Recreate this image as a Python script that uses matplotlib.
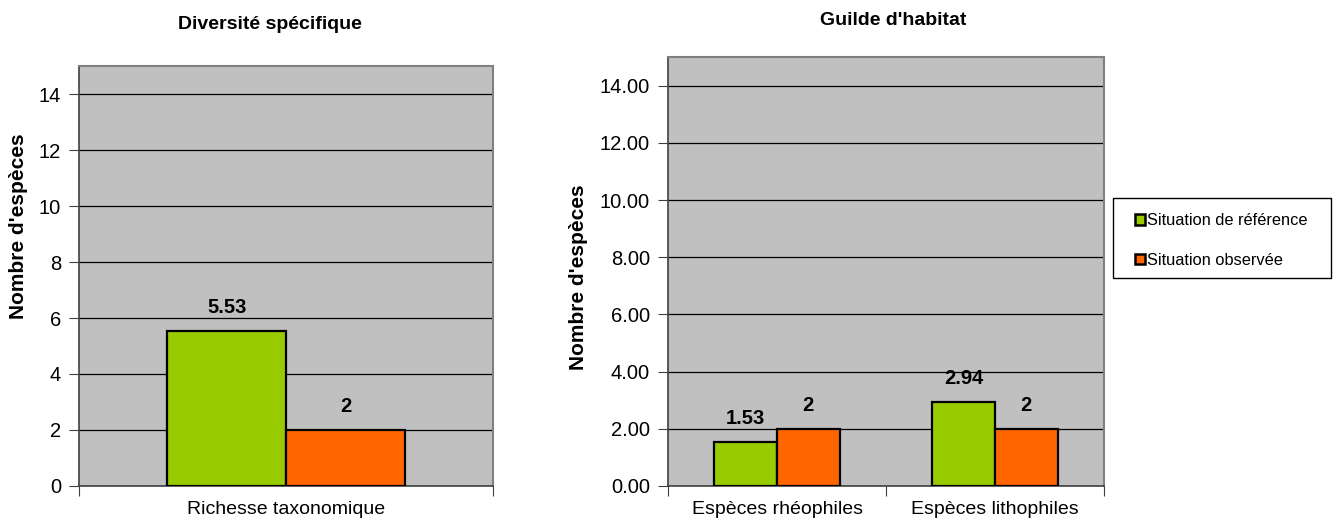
import matplotlib
matplotlib.use("Agg")
import matplotlib.pyplot as plt
from matplotlib.patches import Patch, Rectangle
from matplotlib.ticker import FormatStrFormatter

plt.rcParams['font.family'] = ['Liberation Sans', 'DejaVu Sans']

# Données
series = ["Situation de référence", "Situation observée"]
couleurs = ["#99CC00", "#FF6600"]

cat_gauche = ["Richesse taxonomique"]
ref_gauche = [5.53]
obs_gauche = [2]

cat_droite = ["Espèces rhéophiles", "Espèces lithophiles"]
ref_droite = [1.53, 2.94]
obs_droite = [2, 2]

yticks = [0, 2, 4, 6, 8, 10, 12, 14]

fig = plt.figure(figsize=(13.35, 5.29), dpi=100)
ax1 = fig.add_axes([0.0592, 0.0813, 0.3101, 0.7939])
ax2 = fig.add_axes([0.5004, 0.0813, 0.3266, 0.8109])


def dessine(ax, cats, ref, obs, fmt):
    ax.set_facecolor("#C0C0C0")
    w = 0.287
    x = list(range(len(cats)))
    for vals, dx, col in [(ref, -w / 2, couleurs[0]), (obs, w / 2, couleurs[1])]:
        pos = [i + dx for i in x]
        bars = ax.bar(pos, vals, width=w, color=col, edgecolor="black",
                      linewidth=1.6, zorder=3)
        for b, v in zip(bars, vals):
            lab = f"{v:.2f}" if v != int(v) else f"{int(v)}"
            ax.annotate(lab, (b.get_x() + b.get_width() / 2, v),
                        xytext=(0, 17), textcoords="offset points",
                        ha="center", va="center", fontsize=14.5, fontweight="bold")
    ax.set_xlim(-0.5, len(cats) - 0.5)
    ax.set_ylim(0, 15)
    ax.set_yticks(yticks)
    ax.yaxis.set_major_formatter(FormatStrFormatter(fmt))
    ax.grid(axis="y", color="black", linewidth=0.9, zorder=1)
    ax.set_xticks([i - 0.5 for i in range(len(cats) + 1)], minor=False)
    ax.set_xticklabels([])
    ax.set_xticks(x, minor=True)
    ax.set_xticklabels(cats, minor=True, fontsize=14)
    ax.tick_params(axis="x", which="minor", length=0, pad=11)
    ax.tick_params(axis="x", which="major", length=7, direction="out", color="#404040")
    ax.tick_params(axis="y", length=7, direction="out", labelsize=14.5, pad=6, color="#404040")
    for s in ["top", "right"]:
        ax.spines[s].set_color("#808080")
        ax.spines[s].set_linewidth(1.5)
    for s in ["left", "bottom"]:
        ax.spines[s].set_color("#404040")
        ax.spines[s].set_linewidth(1.2)


dessine(ax1, cat_gauche, ref_gauche, obs_gauche, "%d")
dessine(ax2, cat_droite, ref_droite, obs_droite, "%.2f")

# Titres
fig.text(0.2022, 0.953, "Diversité spécifique", ha="center", va="center",
         fontsize=14, fontweight="bold")
fig.text(0.669, 0.962, "Guilde d'habitat", ha="center", va="center",
         fontsize=14, fontweight="bold")

# Titres des axes Y
fig.text(0.0135, 0.573, "Nombre d'espèces", rotation=90, ha="center", va="center",
         fontsize=15, fontweight="bold")
fig.text(0.433, 0.476, "Nombre d'espèces", rotation=90, ha="center", va="center",
         fontsize=15, fontweight="bold")

# Légende (cadre dessiné à part)
W, H = 1335, 529
fig.patches.append(Rectangle((1113 / W, 1 - 278 / H), 218 / W, 80 / H,
                             transform=fig.transFigure, facecolor="white",
                             edgecolor="black", linewidth=1.0))
handles = [Patch(facecolor=c, edgecolor="black", linewidth=1.8) for c in couleurs]
leg = fig.legend(handles, series, loc="upper left",
                 bbox_to_anchor=(1135 / W, 1 - 213 / H),
                 fontsize=11.8, frameon=False,
                 handlelength=0.62, handleheight=0.62, handletextpad=0.1,
                 labelspacing=1.5, borderpad=0, borderaxespad=0)

fig.savefig("out.png", dpi=100)
